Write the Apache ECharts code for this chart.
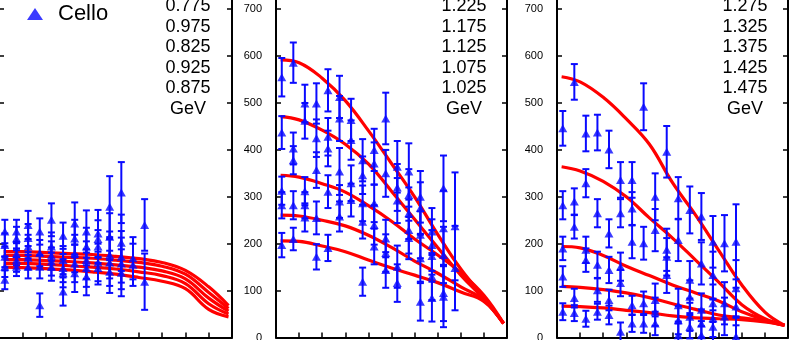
<!DOCTYPE html>
<html>
<head>
<meta charset="utf-8">
<script src="https://cdn.jsdelivr.net/npm/echarts@6/dist/echarts.min.js"></script>
<style>
html, body { margin: 0; padding: 0; background: #fff; }
#chart { width: 790px; height: 340px; }
</style>
</head>
<body>
<div id="chart"></div>
<script>
// cos(theta*) bin centres
var cosBins = [0.025, 0.075, 0.125, 0.175, 0.225, 0.275, 0.325, 0.375, 0.425, 0.475, 0.525, 0.575, 0.625, 0.675, 0.725, 0.775];
var curveX = [0.02, 0.1, 0.2, 0.3, 0.4, 0.5, 0.6, 0.7, 0.8, 0.9, 0.985];

var yTicks = [0, 100, 200, 300, 400, 500, 600, 700, 800];

// energy labels (GeV), top to bottom
var labelsLeft = ['0.775', '0.975', '0.825', '0.925', '0.875'];
var labelsMid = ['1.225', '1.175', '1.125', '1.075', '1.025'];
var labelsRight = ['1.275', '1.325', '1.375', '1.425', '1.475'];

// ---- left panel (Cello) ----
var curve0775 = [183, 183, 181, 179, 177, 173, 168, 160, 143, 108, 68];
var curve0975 = [175, 175, 173, 171, 169, 165, 160, 152, 135, 96, 62];
var curve0825 = [166, 166, 164, 162, 159, 155, 150, 142, 125, 84, 56];
var curve0925 = [158, 158, 156, 153, 150, 146, 140, 132, 115, 72, 50];
var curve0875 = [150, 149, 147, 144, 140, 135, 128, 120, 104, 60, 44];

var cello1 = [226, 226, 240, 226, 251, 217, 243, 226, 222, 279, 309, 169, 240];
var celloErr1 = [25, 25, 30, 28, 35, 28, 45, 45, 50, 65, 65, 45, 55];
var cello2 = [197, 211, 212, 180, 194, 165, 211, 194, 210, 215, 202, 155, 119];
var celloErr2 = [25, 25, 30, 28, 30, 30, 40, 40, 40, 50, 60, 45, 60];
var cello3 = [172, 179, 194, 151, 175, 148, 179, 165, 194, 176, 172, null, null];
var celloErr3 = [22, 25, 25, 25, 30, 30, 40, 40, 35, 50, 55, null, null];
var cello4 = [151, 165, 170, null, 162, 137, 158, 148, 160, 160, 158, null, null];
var celloErr4 = [22, 25, 25, null, 30, 30, 40, 40, 40, 50, 55, null, null];
var cello5 = [123, 151, 151, 69, 151, 98, 137, 130, 148, 140, 138, null, null];
var celloErr5 = [20, 20, 25, 25, 30, 30, 40, 40, 35, 45, 50, null, null];

// ---- middle panel ----
var curve1225 = [592, 586, 553, 505, 441, 371, 300, 220, 146, 85, 30];
var curve1175 = [471, 464, 442, 412, 370, 312, 252, 192, 133, 82, 30];
var curve1125 = [346, 342, 328, 310, 281, 248, 210, 176, 138, 90, 30];
var curve1075 = [261, 259, 250, 238, 218, 192, 163, 137, 108, 80, 30];
var curve1025 = [206, 205, 195, 183, 165, 148, 133, 117, 97, 77, 30];

var mid1 = [555, 586, 499, 499, 527, 513, 464, 378, 400, 467, 364, 354, 300, 226, 318, 237];
var midErr1 = [41, 43, 40, 43, 45, 45, 45, 45, 45, 55, 55, 60, 55, 50, 70, 115];
var mid2 = [437, 403, 462, 425, 428, 467, 421, 346, 371, 350, 320, 304, 276, 197, 233, 148];
var midErr2 = [35, 34, 38, 40, 40, 48, 42, 40, 45, 50, 50, 55, 55, 55, 80, 90];
var mid3 = [313, 378, 312, 357, 403, 354, 329, 286, 286, 211, 292, 265, 219, 174, 176, null];
var midErr3 = [30, 30, 30, 38, 38, 50, 38, 38, 40, 40, 48, 55, 50, 55, 60, null];
var mid4 = [282, 282, 282, 255, 311, 290, 293, 247, 240, 180, 151, 229, 169, 130, 95, null];
var midErr4 = [28, 30, 28, 35, 35, 35, 35, 36, 42, 40, 45, 50, 50, 50, 60, null];
var mid5 = [197, 210, 256, 172, 191, 258, null, 119, 194, 144, 116, 212, 76, 84, 87, null];
var midErr5 = [26, 24, 30, 27, 28, 32, null, 30, 38, 38, 40, 45, 40, 50, 65, null];

// ---- right panel ----
var curve1275 = [556, 545, 512, 466, 412, 330, 261, 186, 112, 54, 26];
var curve1325 = [364, 355, 333, 300, 255, 212, 165, 118, 70, 40, 26];
var curve1375 = [194, 191, 175, 152, 132, 112, 95, 78, 55, 38, 26];
var curve1425 = [109, 107, 102, 95, 85, 72, 60, 48, 42, 35, 26];
var curve1475 = [67, 66, 63, 58, 53, 46, 42, 40, 38, 33, 26];

var high1 = [446, 545, 435, 437, 401, 336, 336, 492, 300, 396, 297, 272, 258, 204, 201, 204];
var highErr1 = [37, 38, 38, 38, 40, 38, 38, 50, 50, 55, 45, 50, 50, 55, 60, 80];
var high2 = [282, 290, 329, 265, 222, 265, 275, 201, 229, 187, 208, 123, 158, 133, 73, 105];
var highErr2 = [30, 28, 30, 30, 30, 30, 35, 35, 45, 45, 45, 40, 45, 50, 45, 60];
var high3 = [190, 236, 187, 155, 144, 151, 204, 73, 80, 172, 69, 87, 59, 73, 45, 66];
var highErr3 = [25, 25, 28, 28, 28, 30, 35, 25, 35, 40, 35, 35, 35, 40, 40, 40];
var high4 = [130, 84, 165, 101, 80, 116, 69, 30, 55, 133, 37, 44, 30, 41, null, 2];
var highErr4 = [22, 20, 25, 25, 22, 28, 20, 20, 30, 38, 30, 30, 30, 40, null, 40];
var high5 = [55, 52, 40, 55, 48, 12, 30, null, 30, null, 5, 23, 5, 23, null, null];
var highErr5 = [18, 17, 17, 17, 20, 20, 18, null, 25, null, 25, 25, 30, 35, null, null];

var BLUE = '#0a0aff';
var RED = '#ff0000';
var FONT = 'Liberation Sans, Arial, sans-serif';

var panels = [
  { left: -1, width: 233, name: 'Cello', labels: labelsLeft, textX: 188,
    curves: [curve0775, curve0975, curve0825, curve0925, curve0875],
    pts: [cello1, cello2, cello3, cello4, cello5],
    errs: [celloErr1, celloErr2, celloErr3, celloErr4, celloErr5] },
  { left: 276, width: 231, name: 'data', labels: labelsMid, textX: 464,
    curves: [curve1225, curve1175, curve1125, curve1075, curve1025],
    pts: [mid1, mid2, mid3, mid4, mid5],
    errs: [midErr1, midErr2, midErr3, midErr4, midErr5] },
  { left: 557, width: 231, name: 'data ', labels: labelsRight, textX: 745,
    curves: [curve1275, curve1325, curve1375, curve1425, curve1475],
    pts: [high1, high2, high3, high4, high5],
    errs: [highErr1, highErr2, highErr3, highErr4, highErr5] }
];

function renderErrorBar(params, api) {
  var x = api.value(0), y = api.value(1), e = api.value(2);
  var top = api.coord([x, y + e]);
  var bot = api.coord([x, y - e]);
  var w = 3.5;
  var style = { stroke: BLUE, lineWidth: 2 };
  return {
    type: 'group',
    children: [
      { type: 'line', shape: { x1: top[0], y1: top[1], x2: bot[0], y2: bot[1] }, style: style },
      { type: 'line', shape: { x1: top[0] - w, y1: top[1], x2: top[0] + w, y2: top[1] }, style: style },
      { type: 'line', shape: { x1: bot[0] - w, y1: bot[1], x2: bot[0] + w, y2: bot[1] }, style: style }
    ]
  };
}

var grids = [], xAxes = [], yAxes = [], series = [], graphics = [];

panels.forEach(function (p, gi) {
  grids.push({ left: p.left, width: p.width, top: -37.7, bottom: 2.5, containLabel: false, outerBoundsMode: 'none' });

  xAxes.push({
    gridIndex: gi, type: 'value', min: 0, max: 1, interval: 0.1,
    axisLine: { show: true, lineStyle: { color: '#000', width: 2 } },
    axisTick: { inside: true, length: 5, lineStyle: { color: '#000', width: 1.5 } },
    axisLabel: { show: false }, splitLine: { show: false }
  });

  var yBase = {
    gridIndex: gi, type: 'value', min: yTicks[0], max: yTicks[yTicks.length - 1], interval: 100,
    axisLine: { show: true, lineStyle: { color: '#000', width: 2 } },
    axisTick: { inside: true, length: 5, lineStyle: { color: '#000', width: 1.5 } },
    splitLine: { show: false }
  };
  yAxes.push(Object.assign({}, yBase, {
    position: 'left',
    axisLabel: { color: '#000', fontSize: 11, fontFamily: FONT, margin: 14 }
  }));
  yAxes.push(Object.assign({}, yBase, { position: 'right', axisLabel: { show: false } }));

  p.curves.forEach(function (c) {
    series.push({
      type: 'line', xAxisIndex: gi, yAxisIndex: gi * 2, smooth: 0.4,
      showSymbol: false, silent: true, z: 2,
      lineStyle: { color: RED, width: 3.2 },
      data: curveX.map(function (x, i) { return [x, c[i]]; })
    });
  });

  var pts = [];
  p.pts.forEach(function (arr, si) {
    arr.forEach(function (v, i) {
      if (v == null) return;
      pts.push([cosBins[i], v, p.errs[si][i]]);
    });
  });

  series.push({
    type: 'custom', xAxisIndex: gi, yAxisIndex: gi * 2, z: 3,
    renderItem: renderErrorBar, encode: { x: 0, y: 1 }, data: pts
  });
  series.push({
    name: p.name, type: 'scatter', xAxisIndex: gi, yAxisIndex: gi * 2, z: 4,
    symbol: 'triangle', symbolSize: [9, 8], itemStyle: { color: BLUE },
    data: pts.map(function (d) { return [d[0], d[1]]; })
  });

  graphics.push({
    type: 'text', x: p.textX, y: -4, z: 10,
    style: {
      text: p.labels.concat(['GeV']).join('\n'),
      fontSize: 18, fontFamily: FONT, lineHeight: 20.5,
      align: 'center', verticalAlign: 'top', fill: '#000'
    }
  });
});

var chart = echarts.init(document.getElementById('chart'));
chart.setOption({
  animation: false,
  backgroundColor: '#fff',
  legend: {
    data: ['Cello'], left: 22, top: -2, icon: 'triangle',
    itemWidth: 16, itemHeight: 12,
    textStyle: { fontSize: 22, fontFamily: FONT, color: '#000', padding: [0, 0, 0, 10] }
  },
  grid: grids,
  xAxis: xAxes,
  yAxis: yAxes,
  series: series,
  graphic: graphics
});
</script>
</body>
</html>
